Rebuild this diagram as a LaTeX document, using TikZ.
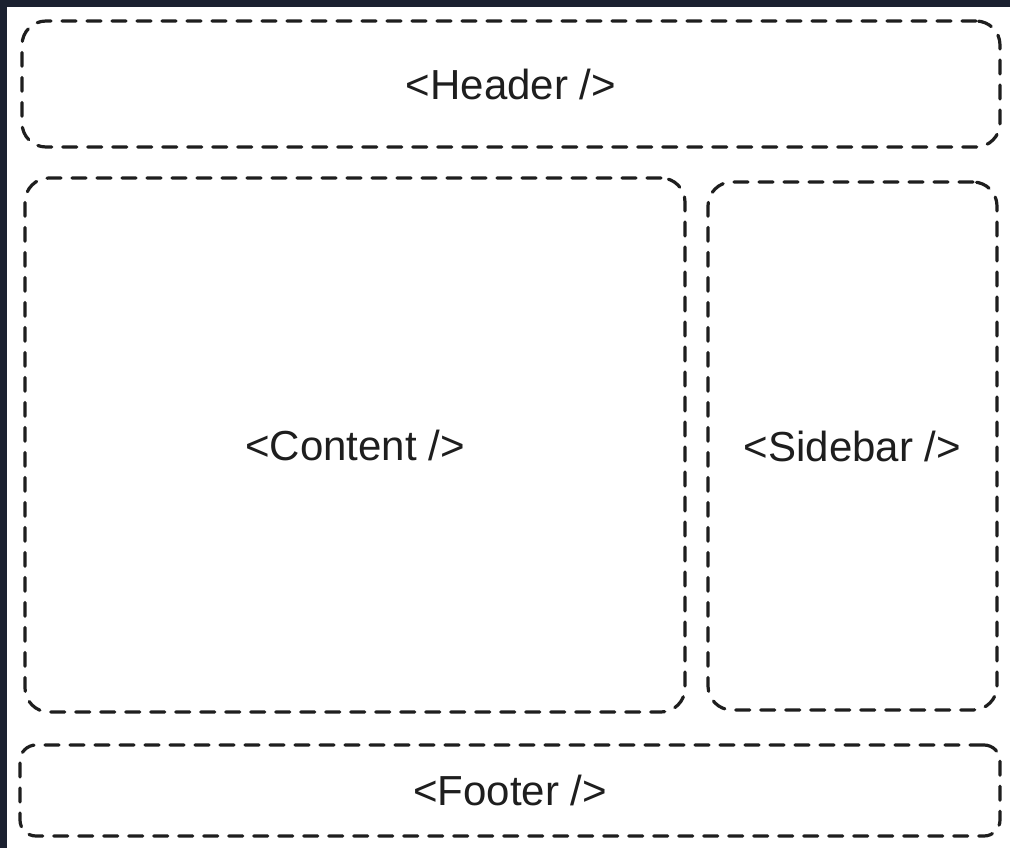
\documentclass[tikz,border=0pt]{standalone}
\usepackage{fontspec}
\setmainfont{Liberation Sans}
\definecolor{frame}{HTML}{1B2130}
\definecolor{ink}{HTML}{1E1E1E}
\begin{document}
\begin{tikzpicture}[x=1pt,y=1pt,
  box/.style={draw=ink, line width=3.2pt, dash pattern=on 14pt off 11pt, line cap=round,
    rounded corners=24pt, inner sep=0pt, font=\fontsize{42}{44}\selectfont, text=ink}]
\useasboundingbox (0,0) rectangle (1010,-848);
\fill[frame] (0,0) rectangle (1010,-848);
\fill[white] (7,-7) rectangle (1010,-848);
\node[box, minimum width=978pt, minimum height=126pt] (header) at (511,-84) {<Header />};
\node[box, minimum width=660pt, minimum height=534pt] (content) at (355,-445) {<Content />};
\node[box, minimum width=289pt, minimum height=528pt] (sidebar) at (852.5,-446) {<Sidebar />};
\node[box, minimum width=980pt, minimum height=91pt, rounded corners=16pt] (footer) at (510,-790.5) {<Footer />};
\end{tikzpicture}
\end{document}
